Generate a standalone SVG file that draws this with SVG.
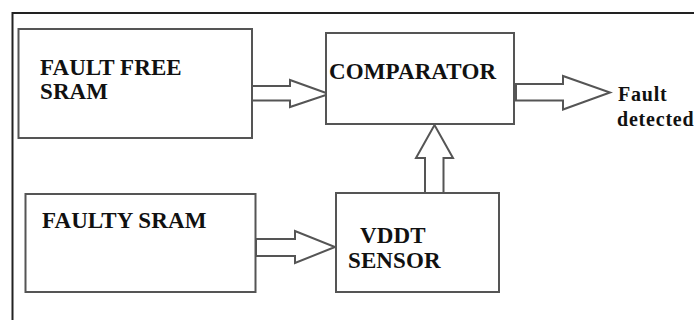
<svg xmlns="http://www.w3.org/2000/svg" width="694" height="320" viewBox="0 0 694 320">
<style>
.b{fill:#fff;stroke:#555;stroke-width:2}
.a{fill:#fff;stroke:#555;stroke-width:2;stroke-linejoin:miter}
text{font-family:"Liberation Serif","Times New Roman",serif;font-weight:bold;font-size:23px;letter-spacing:.1px;fill:#111}
.s{font-size:20px;letter-spacing:.8px}
</style>
<rect width="694" height="320" fill="#fff"/>
<path d="M694 13H12.500V320" fill="none" stroke="#222" stroke-width="2"/>
<g id="connectors">
<path class="a" d="M250 86H290V80L329 94L290 107V100.500H250Z"/>
<path class="a" d="M516 84H563V76L610 92.500L563 109.500V100.500H516Z"/>
<path class="a" d="M256 239H295V231L335 247L295 263V256H256Z"/>
<path class="a" d="M425 193V158H416L434.500 125L453 158H443.500V193"/>
</g>
<g id="fault-free-sram"><rect class="b" x="18.500" y="29" width="233.500" height="109"/><text x="40" y="75">FAULT FREE</text><text x="40" y="99">SRAM</text></g>
<g id="comparator"><rect class="b" x="326" y="33" width="188" height="91"/><text x="329" y="79">COMPARATOR</text></g>
<g id="faulty-sram"><rect class="b" x="25.500" y="194" width="230" height="98"/><text x="42" y="228">FAULTY SRAM</text></g>
<g id="vddt-sensor"><rect class="b" x="336" y="193" width="163" height="99"/><text x="360" y="243">VDDT</text><text x="348" y="268">SENSOR</text></g>
<g id="fault-detected"><text class="s" x="618" y="101">Fault</text><text class="s" x="617" y="126">detected</text></g>
</svg>
